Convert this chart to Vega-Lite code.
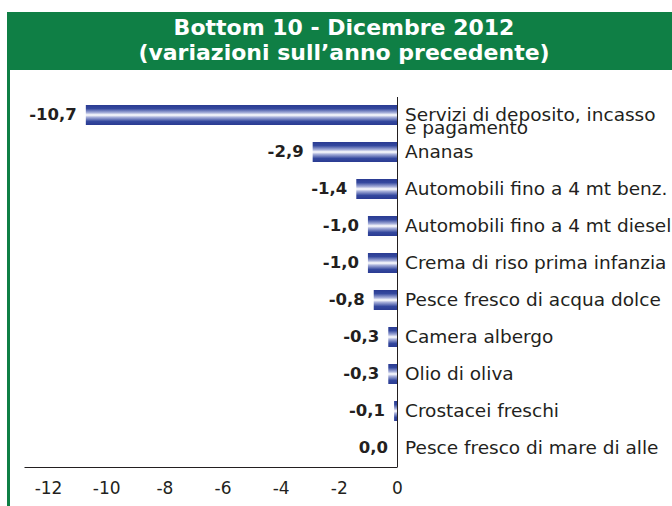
{
  "$schema": "https://vega.github.io/schema/vega-lite/v6.json",
  "background": "white",
  "padding": {"left": 7, "top": 12, "right": 0, "bottom": 0},
  "spacing": 0,
  "bounds": "flush",
  "config": {"view": {"stroke": null}, "font": "DejaVu Sans"},
  "datasets": {
    "bottom10": [
      {"name": "Servizi di deposito, incasso e pagamento", "value": -10.7},
      {"name": "Ananas", "value": -2.9},
      {"name": "Automobili fino a 4 mt benz.", "value": -1.4},
      {"name": "Automobili fino a 4 mt diesel", "value": -1.0},
      {"name": "Crema di riso prima infanzia", "value": -1.0},
      {"name": "Pesce fresco di acqua dolce", "value": -0.8},
      {"name": "Camera albergo", "value": -0.3},
      {"name": "Olio di oliva", "value": -0.3},
      {"name": "Crostacei freschi", "value": -0.1},
      {"name": "Pesce fresco di mare di allevamento", "value": 0.0}
    ]
  },
  "vconcat": [
    {
      "width": 665,
      "height": 58,
      "view": {"fill": "#0f7f45", "stroke": null},
      "title": {
        "text": ["Bottom 10 - Dicembre 2012", "(variazioni sull’anno precedente)"],
        "anchor": "middle",
        "frame": "group",
        "color": "white",
        "font": "DejaVu Sans",
        "fontSize": 22,
        "fontWeight": "bold",
        "lineHeight": 25,
        "baseline": "alphabetic",
        "offset": 0,
        "dy": 70,
        "dx": 4.5
      },
      "data": {"values": []},
      "mark": "rule",
      "encoding": {}
    },
    {
      "spacing": 0,
      "bounds": "flush",
      "hconcat": [
        {
          "width": 3,
          "height": 436,
          "view": {"fill": "#0f7f45", "stroke": null},
          "data": {"values": []},
          "mark": "rule",
          "encoding": {}
        },
        {
          "width": 662,
          "height": 436,
          "data": {"name": "bottom10"},
          "transform": [
            {"calculate": "replace(replace(format(datum.value, '.1f'), '.', ','), '\u2212', '-')", "as": "valueLabel"},
            {"calculate": "indexof(datum.name, ' e pagamento') > 0 ? [replace(datum.name, ' e pagamento', ''), 'e pagamento'] : datum.name", "as": "nameLines"}
          ],
          "encoding": {
            "y": {
              "field": "name",
              "type": "nominal",
              "sort": null,
              "scale": {"range": [26.5, 396.5], "paddingInner": 0.46, "paddingOuter": 0.23},
              "axis": {
                "orient": "left",
                "offset": -387,
                "labels": false,
                "ticks": false,
                "grid": false,
                "title": null,
                "domain": true,
                "domainColor": "#231f20",
                "domainWidth": 1
              }
            }
          },
          "layer": [
            {
              "mark": {
                "type": "bar",
                "orient": "horizontal",
                "color": {
                  "gradient": "linear",
                  "x1": 0, "y1": 0, "x2": 0, "y2": 1,
                  "stops": [
                    {"offset": 0, "color": "#2a3b92"},
                    {"offset": 0.18, "color": "#34489e"},
                    {"offset": 0.38, "color": "#a3acd8"},
                    {"offset": 0.5, "color": "#ffffff"},
                    {"offset": 0.62, "color": "#a3acd8"},
                    {"offset": 0.82, "color": "#34489e"},
                    {"offset": 1, "color": "#2a3b92"}
                  ]
                }
              },
              "encoding": {
                "x": {
                  "field": "value",
                  "type": "quantitative",
                  "scale": {"domain": [-12.826, 0], "range": [14, 387], "nice": false, "zero": true},
                  "axis": {
                    "orient": "bottom",
                    "offset": -39,
                    "values": [-12, -10, -8, -6, -4, -2, 0],
                    "labelExpr": "'' + datum.value",
                    "ticks": false,
                    "tickSize": 0,
                    "grid": false,
                    "title": null,
                    "domainColor": "#231f20",
                    "domainWidth": 1,
                    "labelFont": "DejaVu Sans",
                    "labelFontSize": 17,
                    "labelColor": "#231f20",
                    "labelPadding": 13,
                    "labelOverlap": false,
                    "labelFlush": false
                  }
                }
              }
            },
            {
              "mark": {
                "type": "text",
                "align": "right",
                "baseline": "middle",
                "dx": -9,
                "font": "DejaVu Sans",
                "fontWeight": "bold",
                "fontSize": 16.5,
                "color": "#231f20"
              },
              "encoding": {
                "x": {"field": "value", "type": "quantitative"},
                "text": {"field": "valueLabel", "type": "nominal"}
              }
            },
            {
              "mark": {
                "type": "text",
                "align": "left",
                "baseline": "middle",
                "dx": 8,
                "font": "DejaVu Sans",
                "fontSize": 18.5,
                "lineHeight": 13,
                "limit": 267,
                "ellipsis": " ",
                "color": "#231f20"
              },
              "encoding": {
                "x": {"datum": 0, "type": "quantitative"},
                "text": {"field": "nameLines", "type": "nominal"}
              }
            }
          ]
        }
      ]
    }
  ]
}
